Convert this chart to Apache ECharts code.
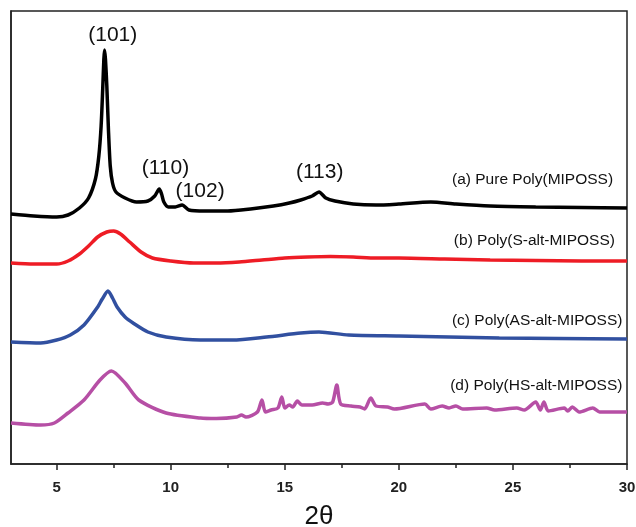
<!DOCTYPE html>
<html>
<head>
<meta charset="utf-8">
<script src="https://cdn.jsdelivr.net/npm/echarts@6/dist/echarts.min.js"></script>
<style>html,body{margin:0;padding:0;background:#fff}#c{width:636px;height:527px}</style>
</head>
<body>
<div id="c"></div>
<script>
// 2θ values and intensities (a.u., stacked with offsets as in the picture)
const seriesNames = ['(a) Pure Poly(MIPOSS)', '(b) Poly(S-alt-MIPOSS)', '(c) Poly(AS-alt-MIPOSS)', '(d) Poly(HS-alt-MIPOSS)'];
const xTicks = [5, 10, 15, 20, 25, 30];
const xMinorTicks = [7.5, 12.5, 17.5, 22.5, 27.5];

const curveA = [[3.0,250],[4.0,248],[5.0,247],[5.5,249],[6.0,256],[6.4,266],[6.7,285],[6.85,308],[6.95,338],[7.02,375],[7.07,405],[7.1,414],[7.14,405],[7.2,378],[7.27,335],[7.35,298],[7.45,281],[7.6,272],[8.0,266],[8.5,262],[9.0,263],[9.3,268],[9.5,275],[9.6,270],[9.7,262],[9.9,257],[10.2,257],[10.5,259],[10.8,254],[11.5,253],[12.5,253],[13.5,255],[14.5,258],[15.2,261],[15.7,264],[16.2,268],[16.5,272],[16.8,266],[17.2,263],[18,260],[19,259],[20,260],[21.4,262],[22.5,260],[24,258],[26,257],[28,256.5],[30,256]];
const curveB = [[3.0,201],[4.0,200],[5.0,200],[5.5,203],[6.0,210],[6.4,218],[6.8,227],[7.2,232],[7.5,233],[7.8,230],[8.2,222],[8.7,212],[9.2,206],[10,203],[11,201],[12,201],[13,202],[14,204],[15,206],[16,207],[17,207.5],[18,207],[19,206],[20,206],[22,205],[24,204],[26,203.5],[28,203],[30,203]];
const curveC = [[3.0,122],[4.3,121],[5.0,124],[5.6,129],[6.2,139],[6.8,157],[7.0,165],[7.25,173],[7.45,166],[7.65,157],[8.0,147],[8.35,141],[9.0,132],[9.8,127],[11.3,124],[12.7,124],[14.2,127],[15.7,131],[16.5,132],[17.8,129],[20,128],[22.2,127],[24.4,126],[27,125.5],[30,125]];
const curveD = [[3.0,41],[4.3,39],[4.9,41],[5.5,51],[6.2,64],[6.9,84],[7.4,93],[8.0,81],[8.6,64],[9.8,51],[11.3,46],[12.0,45.5],[12.9,47],[13.1,49],[13.3,47],[13.8,52],[14.0,64],[14.15,52],[14.4,54],[14.7,56],[14.87,67],[15.0,56],[15.2,59],[15.35,57],[15.55,63],[15.75,59],[16.2,59],[16.66,61],[16.9,60],[17.1,62],[17.28,79],[17.45,60],[17.9,58],[18.3,57],[18.5,55],[18.77,66],[19.0,58],[19.5,57],[19.8,55],[21.14,60],[21.4,55],[21.9,58],[22.2,56],[22.5,58],[22.8,55],[23.85,56],[24.2,54],[25.17,56],[25.5,54],[26.0,62],[26.2,54],[26.36,62],[26.55,53],[27.25,56],[27.4,53],[27.6,57],[27.9,52],[28.5,56],[28.8,52],[29.5,52],[30,52]];

const peakLabels = ['(101)', '(110)', '(102)', '(113)'];
const peakLabelAt = [[7.46,429],[9.77,296],[11.29,273],[16.53,292]];
const nameLabelAt = [[29.39,284],[29.47,223],[29.8,143],[29.8,78]];

const colors = ['#000000', '#ee1c25', '#3150a0', '#b64fa5'];
const curves = [curveA, curveB, curveC, curveD];
const FONT = 'Liberation Sans, Arial, sans-serif';

const series = curves.map((d, i) => ({
  type: 'line', name: seriesNames[i], data: d, xAxisIndex: 0,
  showSymbol: false, symbol: 'none', smooth: 0.25, animation: false,
  lineStyle: { color: colors[i], width: 3.5 },
  markPoint: {
    symbol: 'circle', symbolSize: 0, animation: false,
    itemStyle: { opacity: 1 },
    label: { show: true, position: 'left', distance: 0, color: '#111', fontSize: 15.5, fontFamily: FONT, formatter: p => p.name },
    data: [{ name: seriesNames[i], coord: nameLabelAt[i] }]
  }
}));
series.push({
  type: 'scatter', data: peakLabelAt.map((c, i) => ({ value: c, name: peakLabels[i] })),
  symbolSize: 0, animation: false, silent: true,
  itemStyle: { opacity: 1, color: '#111' },
  label: { show: true, position: 'inside', color: '#111', fontSize: 21, fontFamily: FONT, formatter: p => p.name }
});

const chart = echarts.init(document.getElementById('c'), null, { renderer: 'canvas' });
chart.setOption({
  backgroundColor: '#fff',
  animation: false,
  grid: { left: 11, right: 9, top: 11, bottom: 63, show: true, borderColor: '#222', borderWidth: 1.5, outerBoundsMode: 'none', containLabel: false },
  xAxis: [{
    type: 'value', min: 3, max: 30,
    name: '2θ', nameLocation: 'middle', nameGap: 40,
    nameTextStyle: { fontSize: 26, color: '#111', fontFamily: FONT },
    axisLine: { show: true, onZero: false, lineStyle: { color: '#222', width: 1.5 } },
    axisTick: { show: true, inside: false, length: 6, customValues: xTicks, lineStyle: { color: '#222', width: 1.5 } },
    axisLabel: { show: true, customValues: xTicks, fontWeight: 'bold', fontSize: 15, color: '#222', margin: 16, fontFamily: FONT },
    splitLine: { show: false }
  }, {
    type: 'value', min: 3, max: 30, position: 'bottom', gridIndex: 0,
    axisLine: { show: false },
    axisTick: { show: true, length: 4, customValues: xMinorTicks, lineStyle: { color: '#222', width: 1.5 } },
    axisLabel: { show: false },
    splitLine: { show: false }
  }],
  yAxis: {
    type: 'value', min: 0, max: 453,
    axisLine: { show: true, lineStyle: { color: '#222', width: 1.5 } },
    axisTick: { show: false }, axisLabel: { show: false }, splitLine: { show: false }
  },
  series: series
});
</script>
</body>
</html>
